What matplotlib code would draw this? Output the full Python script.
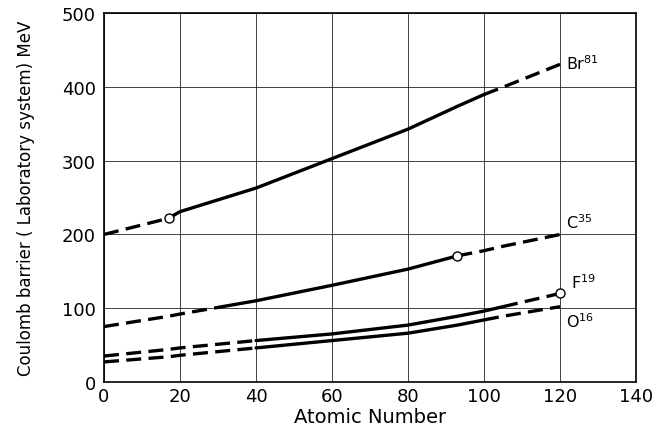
import matplotlib.pyplot as plt
import numpy as np

atomic_no = [0, 17, 20, 30, 40, 60, 80, 93, 100, 105, 120]

br81 = [200, 222, 231, 247, 263, 303, 343, 374, 390, 400, 431]
c35 = [75, 89, 92, 101, 110, 131, 153, 171, 178, 184, 200]
f19 = [35, 44, 46, 51, 56, 65, 77, 89, 96, 102, 120]
o16 = [27, 34, 36, 41, 46, 56, 66, 77, 84, 89, 102]

# x ranges drawn as solid lines (rest is dashed extrapolation)
br81_solid = (17, 100)
c35_solid = (30, 93)
f19_solid = (40, 105)
o16_solid = (40, 100)

# open circles
br81_mark = (17, 222)
c35_mark = (93, 171)
f19_mark = (120, 120)

x_ticks = [0, 20, 40, 60, 80, 100, 120, 140]
y_ticks = [0, 100, 200, 300, 400, 500]


def draw_curve(ax, x, y, solid):
    x = np.array(x)
    y = np.array(y)
    lo, hi = solid
    left = x <= lo
    mid = (x >= lo) & (x <= hi)
    right = x >= hi
    ax.plot(x[mid], y[mid], color="black", lw=2.4, solid_capstyle="round")
    for m in (left, right):
        if m.sum() > 1:
            ax.plot(x[m], y[m], color="black", lw=2.4, dashes=(4.5, 2.2))


fig = plt.figure(figsize=(6.54, 4.39), dpi=100)
ax = fig.add_axes([0.159, 0.128, 0.8135, 0.839])

for series, solid in [(br81, br81_solid), (c35, c35_solid),
                      (f19, f19_solid), (o16, o16_solid)]:
    draw_curve(ax, atomic_no, series, solid)

for mx, my in (br81_mark, c35_mark, f19_mark):
    ax.plot(mx, my, marker="o", ms=6.5, mfc="white", mec="black",
            mew=1.0, zorder=5)

ax.text(121.5, 421, r"Br$^{81}$", fontsize=11.5, va="bottom")
ax.text(121.5, 205, r"C$^{35}$", fontsize=11.5, va="bottom")
ax.text(123, 123, r"F$^{19}$", fontsize=11.5, va="bottom")
ax.text(121.5, 71, r"O$^{16}$", fontsize=11.5, va="bottom")

ax.set_xlim(0, 140)
ax.set_ylim(0, 500)
ax.set_xticks(x_ticks)
ax.set_yticks(y_ticks)
ax.tick_params(length=0, labelsize=13)
ax.tick_params(axis="x", pad=4)
ax.tick_params(axis="y", pad=6)
ax.grid(True, color="#222222", lw=0.6)
for s in ax.spines.values():
    s.set_linewidth(1.2)

ax.set_xlabel("Atomic Number", fontsize=14, labelpad=1)
ax.set_ylabel("Coulomb barrier ( Laboratory system) MeV", fontsize=12,
              labelpad=19)

fig.savefig("out.png", dpi=100)
